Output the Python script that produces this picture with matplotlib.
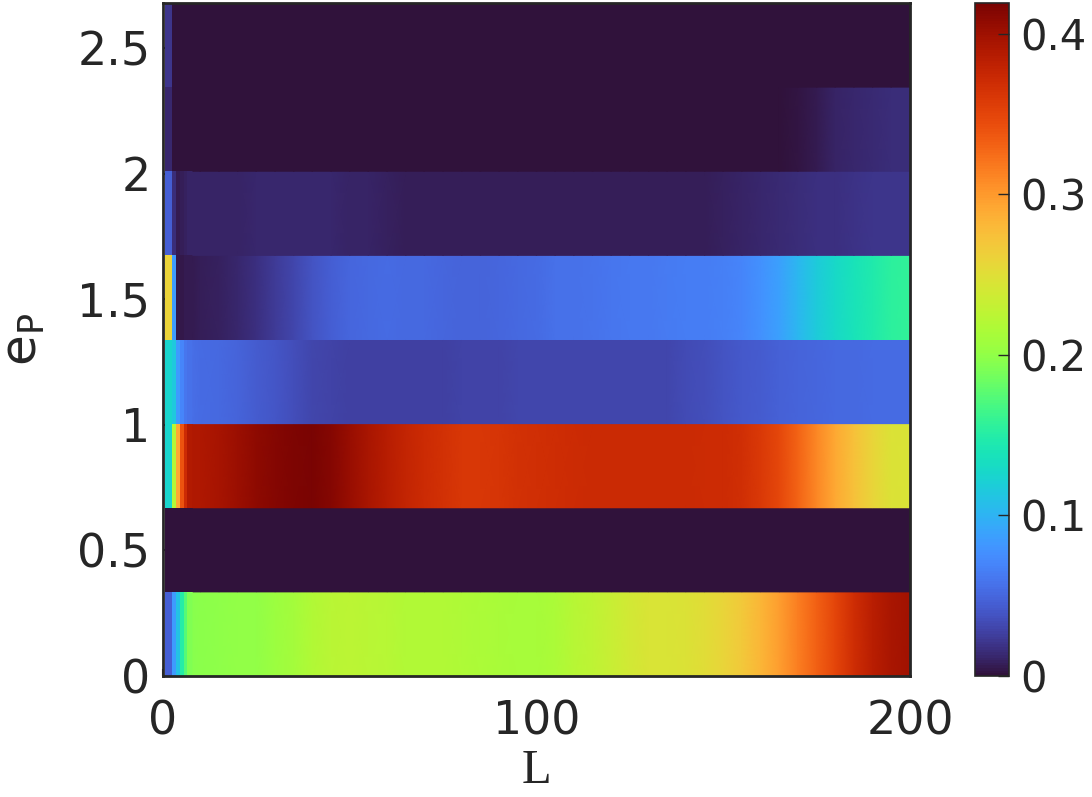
import numpy as np
import matplotlib
matplotlib.use("Agg")
import matplotlib.pyplot as plt

# ---- data -------------------------------------------------------------
# row edges along e_P (8 bands)
eP_edges = [0, 0.335, 0.67, 1.005, 1.34, 1.675, 2.01, 2.345, 2.68]

# narrow cells at small L (edges)
L_cell_edges = [0.5, 2.5, 3.5, 4.5, 5.5, 6.5, 8]
# sample positions along L for the smoothly varying part
L_nodes = [8, 10, 15, 20, 25, 30, 35, 40, 45, 50,
           55, 60, 65, 70, 75, 80, 85, 90, 95, 100,
           105, 110, 115, 120, 125, 130, 135, 140, 145, 150,
           155, 160, 165, 170, 175, 180, 185, 190, 195, 200]

left0 = [0.045, 0.085, 0.11, 0.15, 0.175, 0.192]
left1 = [0.001, 0.001, 0.001, 0.001, 0.001, 0.001]
left2 = [0.125, 0.22, 0.29, 0.34, 0.37, 0.388]
left3 = [0.125, 0.115, 0.085, 0.07, 0.06, 0.056]
left4 = [0.26, 0.085, 0.004, 0.004, 0.005, 0.006]
left5 = [0.045, 0.015, 0.006, 0.008, 0.009, 0.01]
left6 = [0.012, 0.001, 0.001, 0.001, 0.001, 0.001]
left7 = [0.02, 0.001, 0.001, 0.001, 0.001, 0.001]

row0 = [0.195, 0.197, 0.199, 0.2, 0.201, 0.205, 0.211, 0.218, 0.223, 0.225,
        0.224, 0.221, 0.219, 0.218, 0.218, 0.217, 0.216, 0.214, 0.212, 0.212,
        0.215, 0.221, 0.227, 0.234, 0.24, 0.244, 0.245, 0.247, 0.251, 0.258,
        0.268, 0.282, 0.297, 0.315, 0.332, 0.35, 0.369, 0.384, 0.393, 0.398]
row1 = [0.001, 0.001, 0.001, 0.001, 0.001, 0.001, 0.001, 0.001, 0.001, 0.001,
        0.001, 0.001, 0.001, 0.001, 0.001, 0.001, 0.001, 0.001, 0.001, 0.001,
        0.001, 0.001, 0.001, 0.001, 0.001, 0.001, 0.001, 0.001, 0.001, 0.001,
        0.001, 0.001, 0.001, 0.001, 0.001, 0.001, 0.001, 0.001, 0.001, 0.001]
row2 = [0.39, 0.391, 0.395, 0.401, 0.408, 0.413, 0.417, 0.418, 0.413, 0.403,
        0.394, 0.386, 0.378, 0.371, 0.365, 0.361, 0.361, 0.363, 0.366, 0.367,
        0.369, 0.371, 0.372, 0.372, 0.372, 0.372, 0.372, 0.372, 0.371, 0.37,
        0.368, 0.36, 0.348, 0.33, 0.31, 0.291, 0.274, 0.258, 0.247, 0.244]
row3 = [0.055, 0.053, 0.051, 0.048, 0.044, 0.04, 0.035, 0.031, 0.029, 0.027,
        0.027, 0.027, 0.027, 0.027, 0.027, 0.028, 0.029, 0.029, 0.03, 0.03,
        0.03, 0.03, 0.03, 0.03, 0.03, 0.03, 0.031, 0.033, 0.035, 0.038,
        0.041, 0.044, 0.046, 0.048, 0.05, 0.051, 0.052, 0.053, 0.053, 0.053]
row4 = [0.006, 0.007, 0.009, 0.013, 0.017, 0.023, 0.03, 0.038, 0.045, 0.05,
        0.052, 0.053, 0.052, 0.051, 0.05, 0.049, 0.049, 0.05, 0.052, 0.054,
        0.056, 0.057, 0.058, 0.06, 0.061, 0.062, 0.063, 0.064, 0.065, 0.067,
        0.07, 0.077, 0.088, 0.103, 0.117, 0.128, 0.138, 0.147, 0.154, 0.158]
row5 = [0.01, 0.01, 0.01, 0.011, 0.012, 0.012, 0.012, 0.012, 0.012, 0.011,
        0.01, 0.009, 0.008, 0.008, 0.008, 0.008, 0.008, 0.008, 0.008, 0.008,
        0.008, 0.008, 0.008, 0.008, 0.008, 0.008, 0.008, 0.008, 0.008, 0.009,
        0.01, 0.012, 0.014, 0.016, 0.017, 0.018, 0.019, 0.02, 0.02, 0.021]
row6 = [0.001, 0.001, 0.001, 0.001, 0.001, 0.001, 0.001, 0.001, 0.001, 0.001,
        0.001, 0.001, 0.001, 0.001, 0.001, 0.001, 0.001, 0.001, 0.001, 0.001,
        0.001, 0.001, 0.001, 0.001, 0.001, 0.001, 0.001, 0.001, 0.001, 0.001,
        0.001, 0.001, 0.001, 0.002, 0.006, 0.01, 0.012, 0.014, 0.015, 0.016]
row7 = [0.001, 0.001, 0.001, 0.001, 0.001, 0.001, 0.001, 0.001, 0.001, 0.001,
        0.001, 0.001, 0.001, 0.001, 0.001, 0.001, 0.001, 0.001, 0.001, 0.001,
        0.001, 0.001, 0.001, 0.001, 0.001, 0.001, 0.001, 0.001, 0.001, 0.001,
        0.001, 0.001, 0.001, 0.001, 0.001, 0.001, 0.001, 0.001, 0.001, 0.001]

x_ticks = [0, 100, 200]
y_ticks = [0, 0.5, 1, 1.5, 2, 2.5]
y_ticklabels = ["0", "0.5", "1", "1.5", "2", "2.5"]
cb_ticks = [0, 0.1, 0.2, 0.3, 0.4]
cb_ticklabels = ["0", "0.1", "0.2", "0.3", "0.4"]
vmin, vmax = 0.0, 0.419

# ---- plot -------------------------------------------------------------
ink = "#262626"
plt.rcParams["font.family"] = ["DejaVu Sans"]
plt.rcParams["text.color"] = ink
plt.rcParams["axes.labelcolor"] = ink
plt.rcParams["xtick.color"] = ink
plt.rcParams["ytick.color"] = ink

lefts = [left0, left1, left2, left3, left4, left5, left6, left7]
rows = [row0, row1, row2, row3, row4, row5, row6, row7]

fig = plt.figure(figsize=(10.92, 7.97), dpi=100)
ax = fig.add_axes([163 / 1092, 121 / 797, 747 / 1092, 673 / 797])
mesh = None
for i in range(len(rows)):
    y0, y1 = eP_edges[i], eP_edges[i + 1]
    # narrow cells at the left end
    ax.pcolormesh(L_cell_edges, [y0, y1], np.array([lefts[i]]), cmap="turbo",
                  vmin=vmin, vmax=vmax, shading="flat", zorder=1,
                  antialiased=False, edgecolors="none")
    # smooth part
    X, Y = np.meshgrid(L_nodes, [y0, y1])
    C = np.vstack([rows[i], rows[i]])
    mesh = ax.pcolormesh(X, Y, C, cmap="turbo", vmin=vmin, vmax=vmax,
                         shading="gouraud", zorder=1)

ax.set_axisbelow(True)
ax.set_xlim(0, 200)
ax.set_ylim(eP_edges[0], eP_edges[-1])
ax.set_xticks(x_ticks)
ax.set_xticklabels([str(t) for t in x_ticks])
ax.set_yticks(y_ticks)
ax.set_yticklabels(y_ticklabels)
ax.tick_params(direction="in", length=5, width=1.5, labelsize=33,
               top=False, right=False)
ax.tick_params(axis="x", pad=17)
ax.tick_params(axis="y", pad=9)
for s in ax.spines.values():
    s.set_color(ink)
    s.set_linewidth(2)
    s.set_zorder(3)
ax.set_xlabel("L", family="Liberation Serif", fontsize=35, labelpad=3)
ax.set_ylabel(r"$\mathrm{e}_\mathrm{P}$", fontsize=36, labelpad=22)

cax = fig.add_axes([975 / 1092, 121 / 797, 34 / 1092, 673 / 797])
cb = fig.colorbar(mesh, cax=cax)
cb.set_ticks(cb_ticks)
cb.set_ticklabels(cb_ticklabels)
cb.ax.tick_params(direction="in", length=8, width=1, labelsize=30, pad=8,
                  color=ink)
cb.outline.set_edgecolor(ink)
cb.outline.set_linewidth(1.2)

fig.savefig("out.png", dpi=100)
